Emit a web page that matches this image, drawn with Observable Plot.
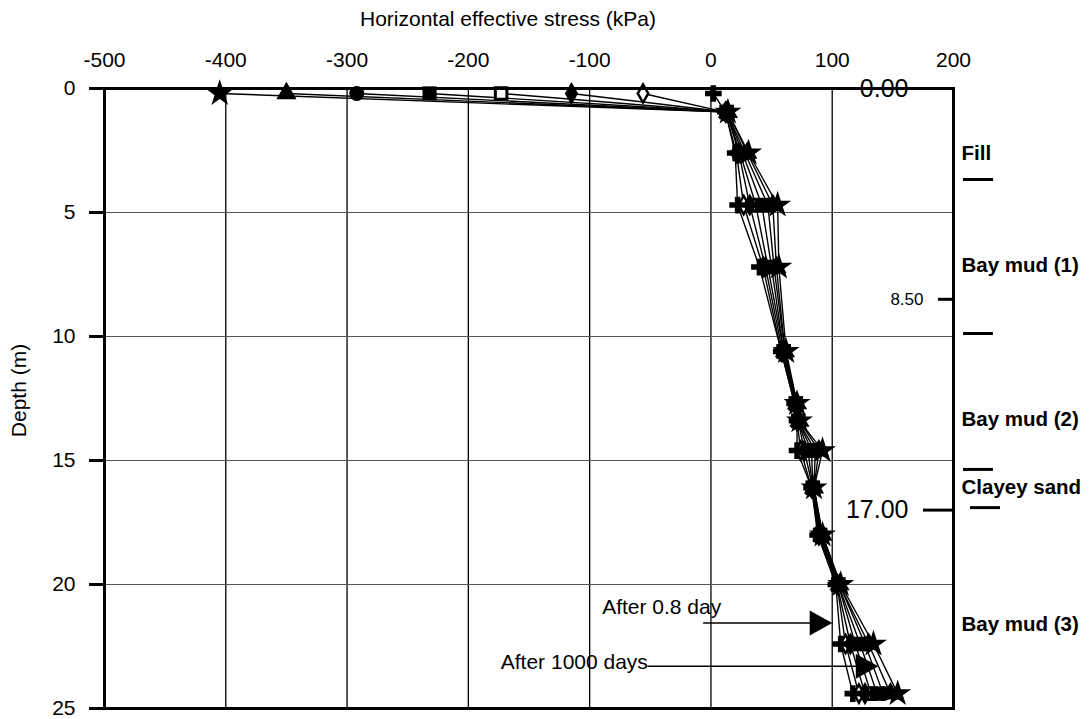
<!DOCTYPE html>
<html><head><meta charset="utf-8">
<script src="https://cdn.jsdelivr.net/npm/d3@7"></script>
<script src="https://cdn.jsdelivr.net/npm/@observablehq/plot@0.6"></script>
<style>
html,body{margin:0;padding:0;background:#fff;}
#chart svg{display:block;overflow:visible;}
</style>
</head><body><div id="chart"></div>
<script>
// ---------- data ----------
const depths = [0.2, 0.95, 2.6, 4.7, 7.2, 10.6, 12.7, 13.4, 14.6, 16.1, 18.0, 20.0, 22.4, 24.4];
const seriesLabels = ["0.8 day", "t2", "t3", "t4", "t5", "t6", "t7", "1000 days"];
const t1 = [2, 12, 20, 22, 40, 58, 69, 71, 71, 83, 88, 103, 107, 117];
const t2 = [-56, 12, 21, 27, 43, 58, 69, 71, 74, 83, 89, 104, 111, 122];
const t3 = [-115, 13, 23, 32, 45, 59, 70, 72, 77, 84, 89, 104, 115, 127];
const t4 = [-173, 13, 24, 37, 47, 60, 70, 72, 80, 84, 90, 105, 119, 132];
const t5 = [-232, 13, 26, 42, 50, 60, 70, 72, 83, 84, 90, 105, 123, 137];
const t6 = [-292, 13, 28, 47, 52, 61, 70, 72, 86, 85, 91, 106, 127, 142];
const t7 = [-350, 14, 30, 51, 54, 61, 71, 73, 89, 85, 92, 106, 130, 148];
const t8 = [-405, 14, 31, 55, 56, 62, 71, 73, 92, 85, 92, 107, 134, 154];

const xTicks = [-500, -400, -300, -200, -100, 0, 100, 200];
const yTicks = [0, 5, 10, 15, 20, 25];
const gridDepths = [5, 10, 15, 20];

const xTitle = "Horizontal effective stress (kPa)";
const yTitle = "Depth (m)";

const layerNames = ["Fill", "Bay mud (1)", "Bay mud (2)", "Clayey sand", "Bay mud (3)"];
const layerLabelDepths = [2.6, 7.15, 13.35, 16.1, 21.6];
const layerBounds = [3.67, 9.88, 15.36];
const sandBase = [16.9];

const levelDepthsBig = [0, 17];
const levelLabelsBig = ["0.00", "17.00"];
const levelDepthsSmall = [8.5];
const levelLabelsSmall = ["8.50"];

const arrowLabels = ["After 0.8 day", "After 1000 days"];
const arrowDepths = [21.55, 23.3];
const arrowStart = [-6, -52];
const arrowTip = [100, 138];
const arrowLabelDepths = [20.9, 23.13];
const arrowLabelEnd = [8.5, -52];

// ---------- styles ----------
const W = 1091, H = 719;
const mL = 104, mR = 138, mT = 88, mB = 11;
const kx = (W - mL - mR) / (xTicks[xTicks.length - 1] - xTicks[0]); // px per kPa
const allSeries = [t1, t2, t3, t4, t5, t6, t7, t8];
const markerStyles = [
  {symbol: "cross", fill: "#000", stroke: "none", r: 7, sw: 0},
  {symbol: "diamond", fill: "#fff", stroke: "#000", r: 5.5, sw: 2.5},
  {symbol: "diamond", fill: "#000", stroke: "none", r: 7, sw: 0},
  {symbol: "square", fill: "#fff", stroke: "#000", r: 6.5, sw: 3},
  {symbol: "square", fill: "#000", stroke: "none", r: 8, sw: 0},
  {symbol: "circle", fill: "#000", stroke: "none", r: 7.5, sw: 0},
  {symbol: "triangle", fill: "#000", stroke: "none", r: 7.5, sw: 0},
  {symbol: "star", fill: "#000", stroke: "none", r: 8.5, sw: 0}
];
const dotOrder = [1, 3, 0, 2, 4, 5, 6, 7];
const headSymbol = {
  draw(ctx, size) {
    const r = Math.sqrt(size / Math.PI);
    ctx.moveTo(0, 0);
    ctx.lineTo(-1.8 * r, -r);
    ctx.lineTo(-1.8 * r, r);
    ctx.closePath();
  }
};

const rows = allSeries.map((vals, s) => vals.map((v, i) => ({series: seriesLabels[s], x: v, depth: depths[i]})));

const marks = [
  Plot.ruleX(xTicks, {stroke: "#000", strokeWidth: 1.3}),
  Plot.ruleY(gridDepths, {stroke: "#555", strokeWidth: 1}),
];
rows.forEach(r => marks.push(Plot.line(r, {x: "x", y: "depth", stroke: "#000", strokeWidth: 1.4})));
dotOrder.forEach(s => {
  const st = markerStyles[s];
  marks.push(Plot.dot(rows[s], {x: "x", y: "depth", symbol: st.symbol, fill: st.fill, stroke: st.stroke, strokeWidth: st.sw, r: st.r}));
});
marks.push(
  Plot.frame({stroke: "#000", strokeWidth: 3}),
  Plot.ruleY(yTicks, {x1: xTicks[0] - 15 / kx, x2: xTicks[0], stroke: "#000", strokeWidth: 3}),
  Plot.ruleY(levelDepthsBig, {x1: 200 - 30 / kx, x2: 200, stroke: "#000", strokeWidth: 3}),
  Plot.ruleY(levelDepthsSmall, {x1: 200 - 15 / kx, x2: 200, stroke: "#000", strokeWidth: 3}),
  Plot.text(levelLabelsBig, {y: (d, i) => levelDepthsBig[i], text: d => d, frameAnchor: "right", dx: -45, textAnchor: "end", lineAnchor: "middle", fontSize: 25}),
  Plot.text(levelLabelsSmall, {y: (d, i) => levelDepthsSmall[i], text: d => d, frameAnchor: "right", dx: -30, textAnchor: "end", lineAnchor: "middle", fontSize: 17}),
  Plot.ruleY(layerBounds, {x1: 200 + 10 / kx, x2: 200 + 40 / kx, stroke: "#000", strokeWidth: 3}),
  Plot.ruleY(sandBase, {x1: 200 + 17 / kx, x2: 200 + 47 / kx, stroke: "#000", strokeWidth: 3}),
  Plot.text(layerNames, {y: (d, i) => layerLabelDepths[i], text: d => d, frameAnchor: "right", dx: 8, textAnchor: "start", lineAnchor: "middle", fontWeight: "bold", fontSize: 20.5}),
  Plot.ruleY(arrowDepths, {x1: (d, i) => arrowStart[i], x2: (d, i) => arrowTip[i] - 20 / kx, stroke: "#000", strokeWidth: 1.5}),
  Plot.dot(arrowDepths, {x: (d, i) => arrowTip[i], y: d => d, symbol: headSymbol, r: 12.5, fill: "#000", stroke: "none"}),
  Plot.text(arrowLabels, {x: (d, i) => arrowLabelEnd[i], y: (d, i) => arrowLabelDepths[i], text: d => d, textAnchor: "end", lineAnchor: "middle", fontSize: 21}),
  Plot.text([xTitle], {frameAnchor: "top", dx: -21, dy: -69, textAnchor: "middle", lineAnchor: "middle", fontSize: 21}),
  Plot.text([yTitle], {frameAnchor: "left", dx: -85, dy: -8, rotate: -90, textAnchor: "middle", lineAnchor: "middle", fontSize: 21})
);

const chart = Plot.plot({
  width: W, height: H,
  marginTop: mT, marginBottom: mB, marginLeft: mL, marginRight: mR,
  style: {fontFamily: "'Liberation Sans', Arial, Helvetica, sans-serif", fontSize: "21px", color: "#000", background: "#fff", overflow: "visible"},
  x: {domain: [xTicks[0], xTicks[xTicks.length - 1]], axis: "top", ticks: xTicks, tickSize: 0, tickPadding: 22, tickFormat: d => String(d), label: null},
  y: {domain: [yTicks[0], yTicks[yTicks.length - 1]], reverse: true, ticks: yTicks, tickSize: 0, tickPadding: 29, tickFormat: d => String(d), label: null},
  marks
});
document.getElementById("chart").appendChild(chart);
</script>
</body></html>
